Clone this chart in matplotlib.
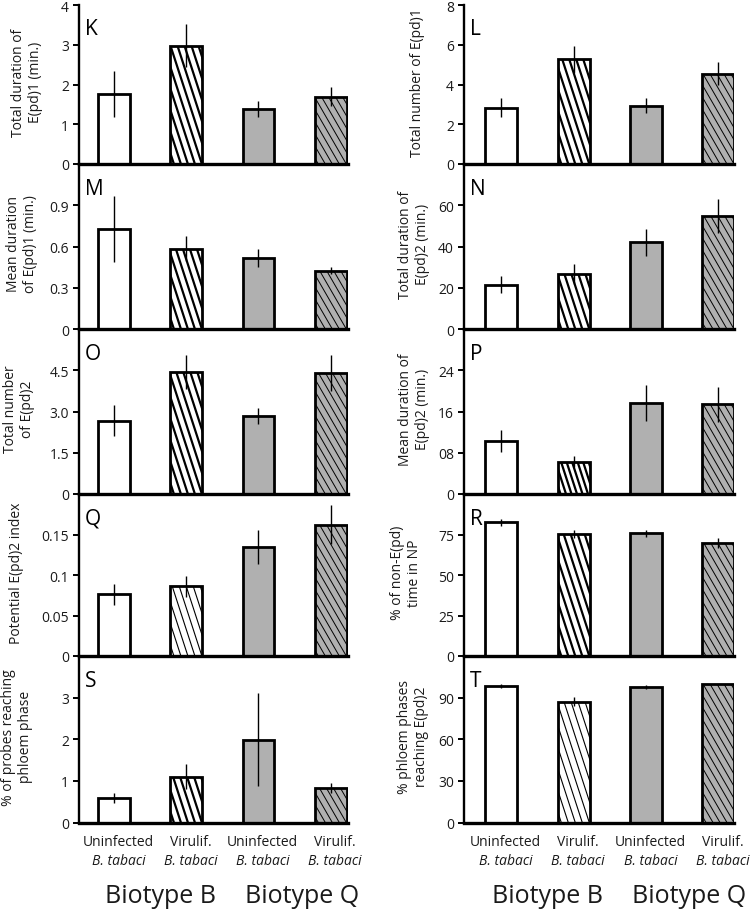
import numpy as np
import matplotlib
matplotlib.use("Agg")
import matplotlib.pyplot as plt
from matplotlib.collections import LineCollection
from matplotlib.transforms import blended_transform_factory, IdentityTransform

plt.rcParams['font.family'] = ['Open Sans', 'DejaVu Sans']

# ---------------- data ----------------
groups = ["Uninfected", "Virulif.", "Uninfected", "Virulif."]
species = "B. tabaci"
biotypes = ["Biotype B", "Biotype Q"]

k_mean = [1.76, 2.98, 1.39, 1.69]
k_se = [0.57, 0.53, 0.20, 0.24]
l_mean = [2.84, 5.27, 2.94, 4.55]
l_se = [0.46, 0.69, 0.36, 0.57]
m_mean = [0.73, 0.585, 0.515, 0.425]
m_se = [0.24, 0.09, 0.065, 0.025]
n_mean = [21.5, 26.6, 42.0, 54.6]
n_se = [4.0, 4.9, 6.5, 8.2]
o_mean = [2.67, 4.44, 2.83, 4.39]
o_se = [0.57, 0.63, 0.30, 0.65]
p_mean = [10.3, 6.3, 17.6, 17.4]
p_se = [2.2, 1.1, 3.5, 3.4]
q_mean = [0.076, 0.086, 0.135, 0.162]
q_se = [0.013, 0.013, 0.021, 0.024]
r_mean = [82.5, 75.5, 75.7, 69.8]
r_se = [2.3, 2.5, 2.3, 3.3]
s_mean = [0.59, 1.10, 1.99, 0.82]
s_se = [0.13, 0.30, 1.12, 0.12]
t_mean = [98.5, 87.2, 97.6, 99.8]
t_se = [1.3, 3.2, 1.2, 0.0]

k_ticks = [0, 1, 2, 3, 4];            k_ticklabels = ["0", "1", "2", "3", "4"]
l_ticks = [0, 2, 4, 6, 8];            l_ticklabels = ["0", "2", "4", "6", "8"]
m_ticks = [0, 0.3, 0.6, 0.9];         m_ticklabels = ["0", "0.3", "0.6", "0.9"]
n_ticks = [0, 20, 40, 60];            n_ticklabels = ["0", "20", "40", "60"]
o_ticks = [0, 1.5, 3.0, 4.5];         o_ticklabels = ["0", "1.5", "3.0", "4.5"]
p_ticks = [0, 8, 16, 24];             p_ticklabels = ["0", "08", "16", "24"]
q_ticks = [0, 0.05, 0.1, 0.15];       q_ticklabels = ["0", "0.05", "0.1", "0.15"]
r_ticks = [0, 25, 50, 75];            r_ticklabels = ["0", "25", "50", "75"]
s_ticks = [0, 1, 2, 3];               s_ticklabels = ["0", "1", "2", "3"]
t_ticks = [0, 30, 60, 90];            t_ticklabels = ["0", "30", "60", "90"]

ymax = dict(K=4, L=8, M=1.2, N=80, O=6.0, P=32, Q=0.2, R=100, S=4, T=120)

ylabels = dict(
    K="Total duration of\nE(pd)1 (min.)",
    L="Total number of E(pd)1",
    M="Mean duration\nof E(pd)1 (min.)",
    N="Total duration of\nE(pd)2 (min.)",
    O="Total number\nof E(pd)2",
    P="Mean duration of\nE(pd)2 (min.)",
    Q="Potential E(pd)2 index",
    R="% of non-E(pd)\ntime in NP",
    S="% of probes reaching\nphloem phase",
    T="% phloem phases\nreaching E(pd)2",
)

panels = [
    ("K", k_mean, k_se, k_ticks, k_ticklabels, 0, 0),
    ("L", l_mean, l_se, l_ticks, l_ticklabels, 0, 1),
    ("M", m_mean, m_se, m_ticks, m_ticklabels, 1, 0),
    ("N", n_mean, n_se, n_ticks, n_ticklabels, 1, 1),
    ("O", o_mean, o_se, o_ticks, o_ticklabels, 2, 0),
    ("P", p_mean, p_se, p_ticks, p_ticklabels, 2, 1),
    ("Q", q_mean, q_se, q_ticks, q_ticklabels, 3, 0),
    ("R", r_mean, r_se, r_ticks, r_ticklabels, 3, 1),
    ("S", s_mean, s_se, s_ticks, s_ticklabels, 4, 0),
    ("T", t_mean, t_se, t_ticks, t_ticklabels, 4, 1),
]

# ---------------- layout (pixels) ----------------
W, H = 750, 912
fig = plt.figure(figsize=(W / 100, H / 100), dpi=100)

col_x = [(78.7, 348.0), (463.7, 734.3)]
col_xlim = [(-0.49, 3.24), (-0.52, 3.22)]
row_top = [6, 165, 330, 495, 657]
row_bot = [165, 330, 495, 657, 823.5]
label_x = dict(K=27, M=22, O=19, Q=17, S=17, L=417, N=414, P=414, R=406, T=413)

gray = "#b0b0b0"
face = ["white", "white", gray, gray]
bar_w = 0.44
x = np.arange(4)


def add_hatch(ax, patch, spacing, angle, lw):
    bb = patch.get_window_extent()
    cot = 1.0 / np.tan(np.radians(angle))
    cmin = bb.x0 + bb.y0 * cot
    cmax = bb.x1 + bb.y1 * cot
    segs = []
    c = cmin + spacing / 2
    while c < cmax:
        segs.append([(c - bb.y0 * cot, bb.y0), (c - bb.y1 * cot, bb.y1)])
        c += spacing
    lc = LineCollection(segs, colors="black", linewidths=lw,
                        transform=IdentityTransform(), zorder=2.5)
    ax.add_collection(lc, autolim=False)
    lc.set_clip_path(patch)


axes = {}
for letter, mean, se, ticks, tlabels, row, col in panels:
    x0, x1 = col_x[col]
    top, bot = row_top[row], row_bot[row]
    ax = fig.add_axes([x0 / W, 1 - bot / H, (x1 - x0) / W, (bot - top) / H])
    axes[letter] = ax
    ax.set_xlim(*col_xlim[col])
    ax.set_ylim(0, ymax[letter])
    bars = ax.bar(x, mean, width=bar_w, color=face, edgecolor="black",
                  linewidth=2.0, zorder=2)
    ax.errorbar(x, mean, yerr=se, fmt="none", ecolor="black",
                elinewidth=1.0, capsize=0, zorder=3)
    # hatching (steep backslash lines)
    thin2 = letter in ("Q", "T")
    sp2 = 5.5 if letter == "P" else 7.0
    add_hatch(ax, bars[1], sp2, 72, 0.8 if thin2 else 1.6)
    add_hatch(ax, bars[3], 7.0, 60, 0.7)

    for s in ("top", "right"):
        ax.spines[s].set_visible(False)
    ax.spines["left"].set_linewidth(1.7)
    ax.spines["bottom"].set_linewidth(2.4)
    ax.spines["left"].set_zorder(4)
    ax.spines["bottom"].set_zorder(4)
    ax.set_xticks([])
    ax.set_yticks(ticks)
    ax.set_yticklabels(tlabels)
    ax.tick_params(axis="y", direction="out", length=4, width=1.4,
                   labelsize=10, pad=3, colors="black", labelcolor="#1a1a1a")
    ax.patch.set_alpha(0)

    ax.text(0.023, 0.85, letter, transform=ax.transAxes, fontsize=15,
            ha="left", va="center", color="black", zorder=5)

    fig.text(label_x[letter] / W, 1 - ((top + bot) / 2 - 3) / H,
             ylabels[letter], rotation=90, ha="center", va="center",
             multialignment="center", fontsize=10, linespacing=1.15,
             color="#1a1a1a")

    if row == 4:
        tr = blended_transform_factory(ax.transData, fig.transFigure)
        for i, g in enumerate(groups):
            ax.text(x[i] + 0.06, 1 - 842.5 / H, g, transform=tr, ha="center",
                    va="center", fontsize=10, color="#1a1a1a")
            ax.text(x[i] + 0.06, 1 - 862 / H, species, transform=tr,
                    ha="center", va="center", fontsize=10, style="italic",
                    color="#1a1a1a")
        for j, b in enumerate(biotypes):
            ax.text(0.64 + 1.96 * j, 1 - 897 / H, b, transform=tr,
                    ha="center", va="center", fontsize=18, color="#1a1a1a")

fig.savefig("out.png", dpi=100)
